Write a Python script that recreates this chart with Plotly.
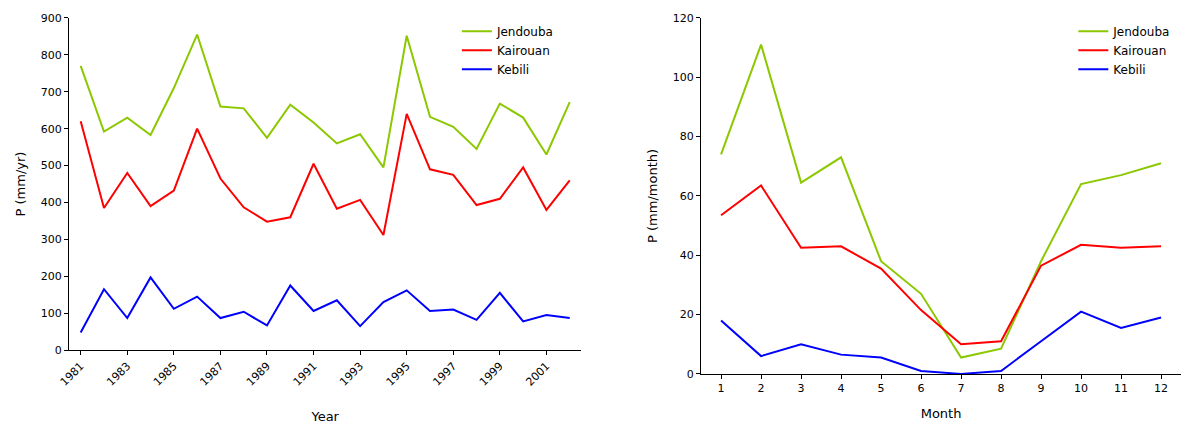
import plotly.graph_objs as go

# annual precipitation 1981-2002
years = list(range(1981, 2003))
jendouba_yr = [770, 592, 630, 583, 710, 855, 660, 655, 575, 665, 617, 560, 585, 495, 852, 632, 605, 545, 668, 630, 530, 672]
kairouan_yr = [620, 385, 480, 390, 432, 600, 465, 387, 348, 360, 505, 383, 407, 312, 640, 490, 475, 393, 410, 495, 380, 460]
kebili_yr = [48, 165, 87, 197, 112, 145, 87, 104, 67, 175, 106, 135, 65, 130, 162, 106, 110, 82, 155, 78, 95, 87]

# monthly precipitation
months = list(range(1, 13))
jendouba_mo = [74, 111, 64.5, 73, 38, 27, 5.5, 8.5, 38, 64, 67, 71]
kairouan_mo = [53.5, 63.5, 42.5, 43, 35.5, 21.5, 10, 11, 36.5, 43.5, 42.5, 43]
kebili_mo = [18, 6, 10, 6.5, 5.5, 1, 0, 1, 11, 21, 15.5, 19]

names = ['Jendouba', 'Kairouan', 'Kebili']
colors = ['#8cc800', '#ff0000', '#0000ff']

fig = go.Figure()
for n, c, ys in zip(names, colors, [jendouba_yr, kairouan_yr, kebili_yr]):
    fig.add_trace(go.Scatter(x=years, y=ys, name=n, mode='lines',
                             line=dict(color=c, width=2), xaxis='x', yaxis='y', legend='legend'))
for n, c, ys in zip(names, colors, [jendouba_mo, kairouan_mo, kebili_mo]):
    fig.add_trace(go.Scatter(x=months, y=ys, name=n, mode='lines',
                             line=dict(color=c, width=2), xaxis='x2', yaxis='y2', legend='legend2'))

axis_style = dict(showgrid=False, zeroline=False, showline=True, linecolor='black',
                  ticks='outside', tickcolor='black', ticklen=4, automargin=False)

fig.update_layout(
    width=1197, height=432,
    paper_bgcolor='white', plot_bgcolor='white',
    margin=dict(l=0, r=0, t=0, b=0),
    font=dict(family='DejaVu Sans', size=11, color='black'),
    xaxis=dict(domain=[0.051, 0.479], range=[1980.5, 2002.5], tickvals=list(range(1981, 2002, 2)),
               tickangle=-45, anchor='y', title=dict(text='Year', standoff=24), **axis_style),
    yaxis=dict(domain=[0.208, 0.977], range=[0, 900], dtick=100, anchor='x',
               title=dict(text='P (mm/yr)', standoff=12), **axis_style),
    xaxis2=dict(domain=[0.579, 0.98], range=[0.5, 12.5], dtick=1, anchor='y2',
                title=dict(text='Month', standoff=14), **axis_style),
    yaxis2=dict(domain=[0.153, 0.977], range=[0, 120], dtick=20, anchor='x2',
                title=dict(text='P (mm/month)', standoff=12), **axis_style),
    legend=dict(x=0.375, y=0.98, xanchor='left', yanchor='top', bgcolor='rgba(0,0,0,0)', font=dict(size=12)),
    legend2=dict(x=0.89, y=0.98, xanchor='left', yanchor='top', bgcolor='rgba(0,0,0,0)', font=dict(size=12)),
)

fig.write_html("out.html")
